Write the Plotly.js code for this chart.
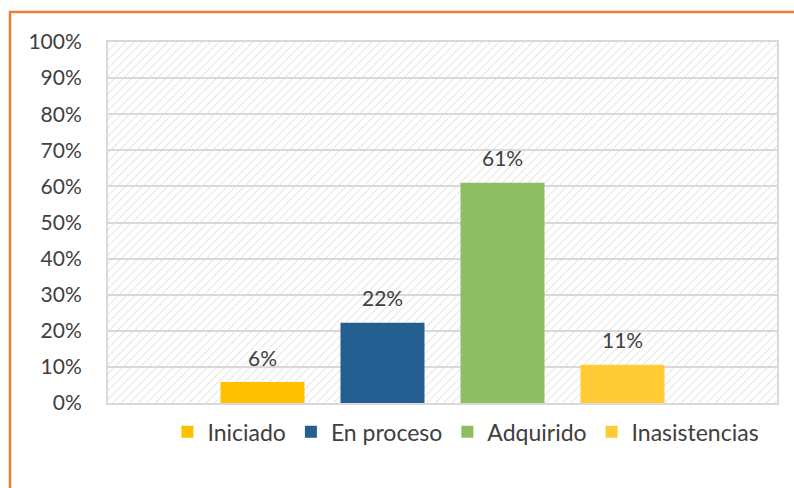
<!DOCTYPE html>
<html><head><meta charset="utf-8">
<script src="https://cdn.plot.ly/plotly-3.0.1.min.js"></script>
<style>html,body{margin:0;padding:0;background:#fff;}#chart{width:794px;height:488px;}</style>
</head><body><div id="chart"></div>
<script>
const seriesNames = ["Iniciado", "En proceso", "Adquirido", "Inasistencias"];
const seriesValues = [0.058, 0.222, 0.61, 0.106];
const seriesColors = ["#FFC000", "#255E91", "#8DBF62", "#FFCA33"];
const yTickVals = [0, 0.1, 0.2, 0.3, 0.4, 0.5, 0.6, 0.7, 0.8, 0.9, 1.0];
const yTickText = ["0%", "10%", "20%", "30%", "40%", "50%", "60%", "70%", "80%", "90%", "100%"];

const FONT = "Lato, 'Open Sans', sans-serif";
const traces = seriesNames.map((n, i) => ({
  type: "bar", name: n, x: [n], y: [seriesValues[i]], width: 0.7,
  marker: {color: seriesColors[i]},
  hoverinfo: "skip"
}));
const annotations = seriesNames.map((n, i) => ({
  x: n, y: seriesValues[i], xref: "x", yref: "y",
  text: Math.round(seriesValues[i] * 100) + "%", showarrow: false,
  yanchor: "middle", yshift: 25,
  font: {family: FONT, size: 21, color: "#404040"}
}));

const W = 669, H = 361;
let svg = `<svg xmlns="http://www.w3.org/2000/svg" width="${W}" height="${H}"><defs><pattern id="p" width="6" height="6" patternUnits="userSpaceOnUse" patternTransform="rotate(45)"><rect width="6" height="6" fill="white"/><line x1="0" y1="0" x2="0" y2="6" stroke="#cccccc" stroke-width="1.6" stroke-dasharray="1.2 0.8"/></pattern></defs><rect width="${W}" height="${H}" fill="url(#p)"/></svg>`;
const src = "data:image/svg+xml;base64," + btoa(svg);

const layout = {
  width: 794, height: 488,
  margin: {l: 108, r: 17, t: 42, b: 85},
  paper_bgcolor: "#fff", plot_bgcolor: "rgba(0,0,0,0)",
  barmode: "overlay",
  font: {family: FONT, size: 21, color: "#404040"},
  xaxis: {type: "category", categoryarray: seriesNames, categoryorder: "array",
          range: [-1.2875, 4.2875], showticklabels: false, showgrid: false, zeroline: false,
          showline: true, linecolor: "#d9d9d9", linewidth: 2, mirror: true, fixedrange: true, ticks: ""},
  yaxis: {range: [0, 1], tickvals: yTickVals, ticktext: yTickText,
          showgrid: true, gridcolor: "#d9d9d9", gridwidth: 2, zeroline: false,
          showline: true, linecolor: "#d9d9d9", linewidth: 2, mirror: true,
          ticks: "", ticklabelstandoff: 20, tickfont: {family: FONT, size: 21, color: "#404040"}},
  legend: {orientation: "h", x: 0.535, xanchor: "center", y: -0.02, yanchor: "top",
           font: {family: FONT, size: 23, color: "#404040"}, itemclick: false, traceorder: "normal"},
  showlegend: true,
  annotations: annotations,
  images: [{source: src, xref: "paper", yref: "paper", x: 0, y: 1, sizex: 1, sizey: 1,
            sizing: "stretch", layer: "below", xanchor: "left", yanchor: "top"}],
  shapes: [{type: "rect", xref: "paper", yref: "paper", x0: -0.1465, x1: 1.3, y0: -0.6, y1: 1.083,
            line: {color: "#ED7D31", width: 2.5}, fillcolor: "rgba(0,0,0,0)", layer: "above"}]
};
Plotly.newPlot("chart", traces, layout, {displayModeBar: false, staticPlot: true});
</script></body></html>
